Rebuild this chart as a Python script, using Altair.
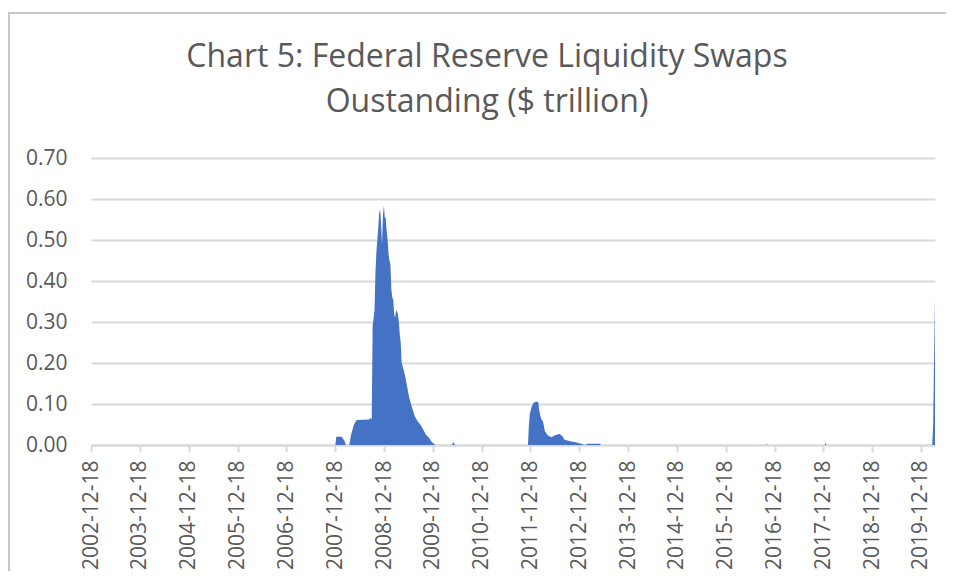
import altair as alt
import pandas as pd

dates = [
    "2002-12-18", "2007-12-12", "2007-12-20", "2007-12-27", "2008-02-06", "2008-02-27", "2008-03-08",
    "2008-04-02", "2008-04-16", "2008-05-07", "2008-05-28", "2008-08-27", "2008-09-10", "2008-09-17",
    "2008-09-24", "2008-10-01", "2008-10-08", "2008-10-15", "2008-10-22", "2008-10-29", "2008-11-05",
    "2008-11-12", "2008-11-19", "2008-11-26", "2008-12-03", "2008-12-10", "2008-12-17", "2008-12-24",
    "2008-12-31", "2009-01-07", "2009-01-14", "2009-01-21", "2009-01-28", "2009-02-04", "2009-02-11",
    "2009-02-18", "2009-02-25", "2009-03-04", "2009-03-11", "2009-03-18", "2009-03-25", "2009-04-01",
    "2009-04-08", "2009-04-15", "2009-04-22", "2009-04-29", "2009-05-13", "2009-05-27", "2009-06-10",
    "2009-06-24", "2009-07-15", "2009-08-05", "2009-08-26", "2009-09-16", "2009-10-07", "2009-10-28",
    "2009-11-18", "2009-12-09", "2010-01-06", "2010-05-12", "2010-05-19", "2010-06-02",
    "2011-11-30", "2011-12-07", "2011-12-14", "2011-12-28", "2012-01-11", "2012-02-01", "2012-02-15",
    "2012-02-22", "2012-03-07", "2012-03-21", "2012-03-28", "2012-04-04", "2012-04-25", "2012-05-23",
    "2012-06-27", "2012-07-25", "2012-08-15", "2012-08-29", "2012-10-10", "2012-11-28", "2013-01-02",
    "2013-01-30", "2013-02-20", "2013-05-22", "2013-05-29",
    "2016-10-12", "2016-10-19", "2016-10-26", "2017-12-27", "2018-01-03", "2018-01-10",
    "2020-03-11", "2020-03-18", "2020-03-25", "2020-04-01",
]
values = [
    0.0, 0.0, 0.0, 0.020, 0.020, 0.010, 0.0,
    0.0, 0.025, 0.050, 0.061, 0.062, 0.066, 0.062,
    0.290, 0.310, 0.330, 0.420, 0.470, 0.500, 0.530,
    0.567, 0.574, 0.540, 0.490, 0.560, 0.583, 0.555,
    0.553, 0.520, 0.500, 0.465, 0.450, 0.440, 0.380,
    0.360, 0.354, 0.320, 0.310, 0.330, 0.325, 0.320,
    0.300, 0.270, 0.250, 0.200, 0.185, 0.165, 0.140,
    0.116, 0.092, 0.070, 0.058, 0.050, 0.038, 0.025,
    0.018, 0.008, 0.0, 0.0, 0.008, 0.0,
    0.0, 0.050, 0.076, 0.093, 0.103, 0.106, 0.104,
    0.085, 0.064, 0.058, 0.047, 0.034, 0.024, 0.019,
    0.025, 0.027, 0.021, 0.013, 0.009, 0.006, 0.003,
    0.0, 0.003, 0.003, 0.0,
    0.0, 0.002, 0.0, 0.0, 0.005, 0.0,
    0.0, 0.045, 0.206, 0.358,
]

tick_years = list(range(2002, 2020))
y_ticks = [0.0, 0.1, 0.2, 0.3, 0.4, 0.5, 0.6, 0.7]
title_lines = ["Chart 5: Federal Reserve Liquidity Swaps", "Oustanding ($ trillion)"]

df = pd.DataFrame({"date": dates, "value": values})

grey = "#595959"
grid = "#d9d9d9"

x_enc = alt.X(
    "date:T",
    title=None,
    scale=alt.Scale(
        type="utc",
        domain=[alt.DateTime(year=2002, month=12, date=18, utc=True),
                alt.DateTime(year=2020, month=4, date=1, utc=True)],
        nice=False,
    ),
    axis=alt.Axis(
        values=[alt.DateTime(year=y, month=12, date=18, utc=True) for y in tick_years],
        format="%Y-%m-%d",
        labelAngle=270,
        labelAlign="right",
        labelBaseline="middle",
        labelFontSize=21,
        labelFont="Open Sans",
        labelColor=grey,
        labelPadding=8,
        tickSize=7,
        tickColor=grid,
        tickWidth=2,
        domainColor=grid,
        domainWidth=2,
        grid=False,
        labelOverlap=False,
    ),
)

y_enc = alt.Y(
    "value:Q",
    title=None,
    scale=alt.Scale(domain=[0, 0.7], nice=False),
    axis=alt.Axis(
        values=y_ticks,
        format=".2f",
        labelFontSize=21,
        labelFont="Open Sans",
        labelColor=grey,
        labelPadding=24,
        ticks=False,
        domain=False,
        grid=True,
        gridColor=grid,
        gridWidth=2,
    ),
)

area = alt.Chart(df).mark_area(color="#4472C4", interpolate="linear").encode(x=x_enc, y=y_enc)

frame_df = pd.DataFrame({"k": [0]})
top_border = alt.Chart(frame_df).mark_rule(color="#c8c8c8", strokeWidth=2).encode(
    x=alt.value(-83), x2=alt.value(855), y=alt.value(-145)
)
left_border = alt.Chart(frame_df).mark_rule(color="#c8c8c8", strokeWidth=2).encode(
    x=alt.value(-82), y=alt.value(-145), y2=alt.value(420)
)
title1 = alt.Chart(frame_df).mark_text(
    text=title_lines[0], font="Open Sans", fontSize=32, color=grey,
    align="center", baseline="alphabetic",
).encode(x=alt.value(396), y=alt.value(-91))
title2 = alt.Chart(frame_df).mark_text(
    text=title_lines[1], font="Open Sans", fontSize=32, color=grey,
    align="center", baseline="alphabetic",
).encode(x=alt.value(396), y=alt.value(-46))

chart = (
    alt.layer(area, top_border, left_border, title1, title2)
    .properties(
        width=844,
        height=287,
        autosize=alt.AutoSizeParams(type="none"),
        padding={"left": 83, "top": 150, "right": 11, "bottom": 126},
    )
    .configure_view(stroke=None)
)

chart.save("out.html", embed_options={"renderer": "svg", "actions": False})
